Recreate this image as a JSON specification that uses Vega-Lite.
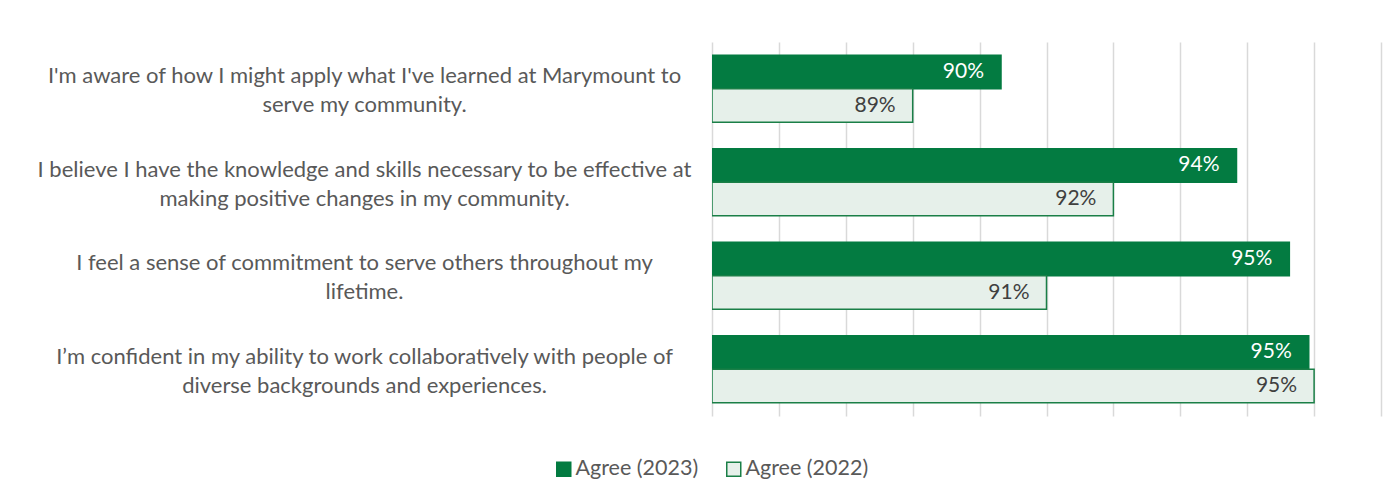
{
  "$schema": "https://vega.github.io/schema/vega-lite/v6.json",
  "autosize": {"type": "none"},
  "width": 669,
  "height": 374,
  "padding": {"left": 712, "top": 42, "right": 19, "bottom": 82},
  "background": "white",
  "config": {
    "view": {"stroke": null},
    "font": "Lato"
  },
  "data": {
    "values": [
      {"statement": "I'm aware of how I might apply what I've learned at Marymount to\nserve my community.", "series": "Agree (2023)", "value": 0.9032},
      {"statement": "I'm aware of how I might apply what I've learned at Marymount to\nserve my community.", "series": "Agree (2022)", "value": 0.89},
      {"statement": "I believe I have the knowledge and skills necessary to be effective at\nmaking positive changes in my community.", "series": "Agree (2023)", "value": 0.9384},
      {"statement": "I believe I have the knowledge and skills necessary to be effective at\nmaking positive changes in my community.", "series": "Agree (2022)", "value": 0.92},
      {"statement": "I feel a sense of commitment to serve others throughout my\nlifetime.", "series": "Agree (2023)", "value": 0.9463},
      {"statement": "I feel a sense of commitment to serve others throughout my\nlifetime.", "series": "Agree (2022)", "value": 0.91},
      {"statement": "I’m confident in my ability to work collaboratively with people of\ndiverse backgrounds and experiences.", "series": "Agree (2023)", "value": 0.9492},
      {"statement": "I’m confident in my ability to work collaboratively with people of\ndiverse backgrounds and experiences.", "series": "Agree (2022)", "value": 0.95}
    ]
  },
  "encoding": {
    "y": {
      "field": "statement",
      "type": "nominal",
      "sort": null,
      "scale": {"paddingInner": 0.2834, "paddingOuter": 0.1417},
      "axis": {
        "title": null,
        "domain": false,
        "ticks": false,
        "tickSize": 0,
        "labelAlign": "center",
        "labelBaseline": "middle",
        "labelOffset": -12.5,
        "labelPadding": 348,
        "labelFontSize": 22,
        "labelColor": "#595959",
        "labelLineHeight": 29,
        "labelLimit": 0,
        "labelExpr": "split(datum.label, '\\n')"
      }
    },
    "yOffset": {
      "field": "series",
      "type": "nominal",
      "sort": ["Agree (2023)", "Agree (2022)"],
      "scale": {"paddingInner": 0, "paddingOuter": 0}
    },
    "x": {
      "field": "value",
      "type": "quantitative",
      "scale": {"domain": [0.86, 0.96], "zero": false, "nice": false},
      "axis": {
        "title": null,
        "labels": false,
        "ticks": false,
        "domain": false,
        "grid": true,
        "gridColor": "#D9D9D9",
        "gridWidth": 1.5,
        "values": [0.86, 0.87, 0.88, 0.89, 0.9, 0.91, 0.92, 0.93, 0.94, 0.95, 0.96]
      }
    }
  },
  "layer": [
    {
      "mark": {"type": "bar", "strokeWidth": 1.5, "clip": true},
      "encoding": {
        "x2": {"datum": 0.86},
        "color": {
          "field": "series",
          "type": "nominal",
          "scale": {"domain": ["Agree (2023)", "Agree (2022)"], "range": ["#037B41", "#E6F0EA"]},
          "legend": {
            "title": null,
            "orient": "none",
            "legendX": -159,
            "legendY": 416,
            "direction": "horizontal",
            "symbolType": "square",
            "symbolSize": 196,
            "symbolStrokeWidth": 1.5,
            "labelFontSize": 21.5,
            "labelColor": "#595959",
            "labelOffset": 1,
            "columnPadding": 24,
            "padding": 0
          }
        },
        "stroke": {
          "field": "series",
          "type": "nominal",
          "scale": {"domain": ["Agree (2023)", "Agree (2022)"], "range": ["#037B41", "#1A7F47"]},
          "legend": null
        }
      }
    },
    {
      "mark": {"type": "text", "align": "right", "baseline": "middle", "dx": -17, "fontSize": 21},
      "encoding": {
        "text": {"field": "value", "type": "quantitative", "format": ".0%"},
        "color": {
          "condition": {"test": "datum.series === 'Agree (2023)'", "value": "white"},
          "value": "#404040"
        }
      }
    }
  ]
}
